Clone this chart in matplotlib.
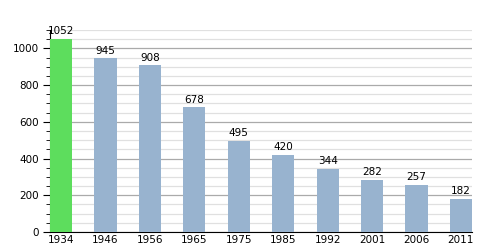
import matplotlib
matplotlib.use('Agg')
import matplotlib.pyplot as plt
from matplotlib.ticker import MultipleLocator

years = ['1934', '1946', '1956', '1965', '1975', '1985', '1992', '2001', '2006', '2011']
population = [1052, 945, 908, 678, 495, 420, 344, 282, 257, 182]
bar_colors = ['#5ddd5d'] + ['#98b3cf'] * 9

fig = plt.figure(figsize=(5, 2.5), dpi=100)
ax = fig.add_axes([0.1, 0.072, 0.844, 0.808])

pos = list(range(len(years)))
ax.bar(pos, population, width=0.5, align='edge', color=bar_colors, zorder=3)
for p, v in zip(pos, population):
    ax.text(p + 0.25, v + 15, str(v), ha='center', va='bottom', fontsize=7.5, zorder=4)

ax.set_xlim(0, 9.5)
ax.set_ylim(0, 1100)
ax.set_xticks([p + 0.25 for p in pos])
ax.set_xticklabels(years, fontsize=7.5)
ax.tick_params(axis='x', length=0, pad=2)

ax.yaxis.set_major_locator(MultipleLocator(200))
ax.yaxis.set_minor_locator(MultipleLocator(50))
ax.tick_params(axis='y', which='major', length=5, labelsize=7.5, pad=3)
ax.tick_params(axis='y', which='minor', length=3)
ax.grid(True, which='major', axis='y', color='#aaaaaa', linewidth=0.9, zorder=0)
ax.grid(True, which='minor', axis='y', color='#e0e0e0', linewidth=0.9, zorder=0)

ax.spines['top'].set_visible(False)
ax.spines['right'].set_visible(False)

plt.savefig('out.png', dpi=100)
plt.close()
